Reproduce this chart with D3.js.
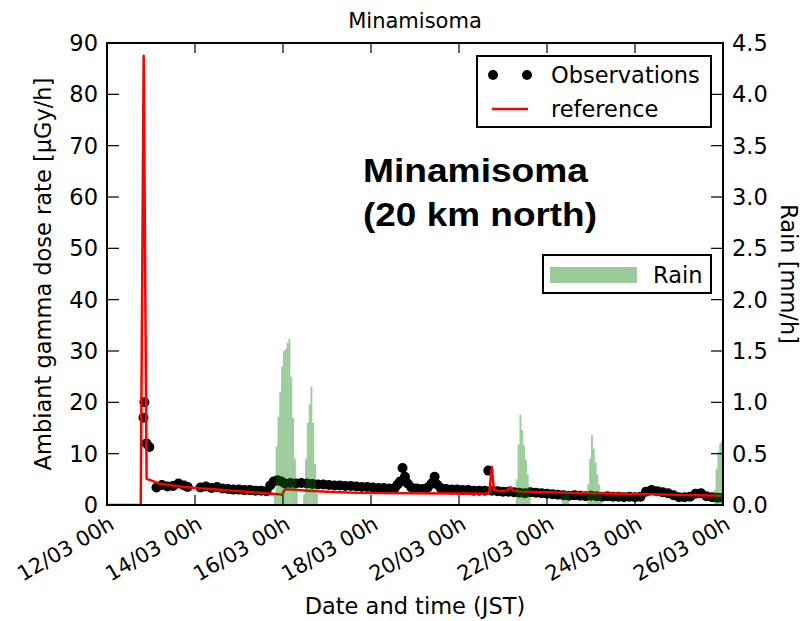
<!DOCTYPE html>
<html>
<head>
<meta charset="utf-8">
<script src="https://cdn.jsdelivr.net/npm/d3@7"></script>
<style>
  body { margin: 0; background: #fff; }
  svg { display: block; font-family: "DejaVu Sans", sans-serif; }
</style>
</head>
<body>
<svg id="chart" width="805" height="621"></svg>
<script>
// hours counted from 12/03 00h JST
const obsHours = [19.9, 20.4, 21.5, 23.1,
  27, 30, 33, 36, 39, 42, 44,
  51, 54, 57, 60, 63, 66, 69, 72, 75, 78, 81, 84, 87,
  89, 91, 93, 95, 97, 100, 103, 106, 109, 112, 115, 118, 121, 124, 127, 130, 133, 136, 139, 142, 145, 148, 151, 154, 157,
  158.5, 160, 161.2, 162.5, 164, 166, 169, 172, 175, 177, 178.7, 180, 182, 185, 188, 191, 194, 197, 200, 203, 206,
  208, 210, 213, 216, 219, 222, 225, 228, 231, 234, 237, 240, 243, 246, 249, 252, 255, 258, 261, 264, 267, 270,
  273, 276, 279, 282, 285, 288, 291, 294, 297, 300, 303, 306, 309, 312, 315, 318, 321, 324, 327, 330, 333, 336];
const obsValues = [17.0, 20.0, 12.0, 11.3,
  3.4, 3.9, 3.6, 3.7, 4.2, 3.8, 3.5,
  3.4, 3.6, 3.3, 3.5, 3.2, 3.1, 3.0, 3.0, 2.9, 2.9, 2.8, 2.8, 2.7,
  3.8, 4.6, 4.8, 4.6, 4.2, 4.3, 4.2, 4.3, 4.2, 4.1, 4.0, 4.0, 3.9, 3.8, 3.8, 3.7, 3.7, 3.6, 3.5, 3.5, 3.4, 3.3, 3.3, 3.2, 3.3,
  4.0, 4.6, 7.2, 5.5, 4.2, 3.4, 3.2, 3.1, 3.4, 4.2, 5.5, 4.0, 3.3, 3.1, 3.0, 3.0, 2.9, 2.9, 2.8, 2.8, 2.8,
  6.7, 2.8, 2.7, 2.6, 2.6, 2.5, 2.4, 2.3, 2.5, 2.4, 2.3, 2.2, 2.1, 2.0, 1.9, 1.8, 1.9, 1.8, 1.7, 1.8, 1.7, 1.6,
  1.7, 1.6, 1.6, 1.5, 1.6, 1.5, 1.6, 2.6, 2.9, 2.7, 2.5, 2.3, 1.9, 1.5, 1.5, 1.6, 2.2, 2.3, 1.7, 1.5, 1.4, 1.4];

const refHours = [0, 18.4, 20, 21.6, 24, 28, 32, 40, 50, 60, 68, 78, 86, 94, 95.5, 97, 100, 110, 120, 135, 150, 170, 190,
  206, 208.5, 209.9, 211, 214, 218, 220, 221.5, 225, 250, 280, 310, 336];
const refValues = [0, 0, 87.5, 5.1, 4.8, 4.2, 4.0, 3.6, 3.25, 3.0, 2.8, 2.55, 2.3, 2.1, 2.0, 3.05, 3.0, 2.8, 2.6, 2.4, 2.35, 2.3, 2.25,
  2.2, 2.4, 7.4, 3.0, 2.7, 2.8, 3.5, 2.8, 2.65, 2.4, 2.2, 2.0, 1.8];

const rainHours = [91, 92, 93, 94, 95, 96, 97, 98, 99, 100, 101, 102, 103,
  107, 108, 109, 110, 111, 112, 113, 114,
  223, 224, 225, 226, 227, 228, 229, 230,
  248, 249, 250, 251,
  262, 263, 264, 265, 266, 267, 268, 269,
  331, 332, 333, 334, 335];
const rainValues = [0.1, 0.57, 0.86, 1.1, 1.35, 1.5, 1.52, 1.58, 1.62, 1.25, 0.85, 0.45, 0.15,
  0.1, 0.45, 0.8, 0.98, 1.15, 0.8, 0.4, 0.12,
  0.25, 0.59, 0.88, 0.73, 0.58, 0.44, 0.3, 0.18,
  0.1, 0.13, 0.13, 0.1,
  0.2, 0.45, 0.68, 0.55, 0.42, 0.3, 0.2, 0.12,
  0.15, 0.35, 0.52, 0.6, 0.62];

const doseTicks = [0, 10, 20, 30, 40, 50, 60, 70, 80, 90];
const rainTicks = [0, 0.5, 1.0, 1.5, 2.0, 2.5, 3.0, 3.5, 4.0, 4.5];

const t0 = Date.UTC(2011, 2, 12);
const hourToDate = h => new Date(t0 + h * 3600e3);

const margin = {left: 107, right: 82, top: 43, bottom: 116};
const W = 805, H = 621;
const x0 = margin.left, x1 = W - margin.right, y0 = H - margin.bottom, y1 = margin.top;
const fs = 22.5;

const x = d3.scaleUtc().domain([new Date(t0), hourToDate(336)]).range([x0, x1]);
const y = d3.scaleLinear().domain([0, 90]).range([y0, y1]);
const yRain = d3.scaleLinear().domain([0, 4.5]).range([y0, y1]);

const svg = d3.select("#chart");

svg.append("defs").append("clipPath").attr("id", "clip")
  .append("rect").attr("x", x0).attr("y", y1).attr("width", x1 - x0).attr("height", y0 - y1);

const plot = svg.append("g").attr("clip-path", "url(#clip)");

// observations
plot.append("g").selectAll("circle")
  .data(obsHours.map((h, i) => [h, obsValues[i]]))
  .join("circle")
  .attr("cx", d => x(hourToDate(d[0])))
  .attr("cy", d => y(d[1]))
  .attr("r", 5)
  .attr("fill", "#000");

// reference
const line = d3.line().x(d => x(hourToDate(d[0]))).y(d => y(d[1]));
plot.append("path")
  .datum(refHours.map((h, i) => [h, refValues[i]]))
  .attr("d", line)
  .attr("fill", "none")
  .attr("stroke", "#ff0000")
  .attr("stroke-width", 2.5)
  .attr("stroke-linejoin", "round");

// rain (twin axis, on top)
plot.append("g").selectAll("rect")
  .data(rainHours.map((h, i) => [h, rainValues[i]]))
  .join("rect")
  .attr("x", d => x(hourToDate(d[0])))
  .attr("width", d => x(hourToDate(d[0] + 1)) - x(hourToDate(d[0])))
  .attr("y", d => yRain(d[1]))
  .attr("height", d => y0 - yRain(d[1]))
  .attr("fill", "rgb(0,128,0)")
  .attr("fill-opacity", 0.4);

// frame
svg.append("rect").attr("x", x0).attr("y", y1).attr("width", x1 - x0).attr("height", y0 - y1)
  .attr("fill", "none").attr("stroke", "#000").attr("stroke-width", 2);

// axes with inward ticks
const xTickVals = d3.range(0, 337, 48).map(hourToDate);
const fmt = d3.utcFormat("%d/%m %Hh");
const tickG = svg.append("g").attr("stroke", "#000").attr("stroke-width", 1.2);
xTickVals.forEach(t => {
  const xx = x(t);
  tickG.append("line").attr("x1", xx).attr("x2", xx).attr("y1", y0).attr("y2", y0 - 10);
  tickG.append("line").attr("x1", xx).attr("x2", xx).attr("y1", y1).attr("y2", y1 + 10);
});
doseTicks.forEach(v => {
  tickG.append("line").attr("x1", x0).attr("x2", x0 + 12).attr("y1", y(v)).attr("y2", y(v));
});
rainTicks.forEach(v => {
  tickG.append("line").attr("x1", x1).attr("x2", x1 - 12).attr("y1", yRain(v)).attr("y2", yRain(v));
});

svg.append("g").selectAll("text")
  .data(xTickVals)
  .join("text")
  .attr("transform", d => `translate(${x(d) + 1},${y0 + 10}) rotate(-30)`)
  .attr("text-anchor", "end")
  .attr("dy", "0.72em")
  .attr("font-size", 21)
  .text(d => fmt(d));

svg.append("g").selectAll("text")
  .data(doseTicks)
  .join("text")
  .attr("x", x0 - 9)
  .attr("y", d => y(d))
  .attr("dy", "0.36em")
  .attr("text-anchor", "end")
  .attr("font-size", fs)
  .text(d => d);

svg.append("g").selectAll("text")
  .data(rainTicks)
  .join("text")
  .attr("x", x1 + 9)
  .attr("y", d => yRain(d))
  .attr("dy", "0.36em")
  .attr("font-size", fs)
  .text(d => d.toFixed(1));

// labels
svg.append("text").attr("x", (x0 + x1) / 2).attr("y", 28).attr("text-anchor", "middle")
  .attr("font-size", 21).text("Minamisoma");
svg.append("text").attr("x", (x0 + x1) / 2).attr("y", 614).attr("text-anchor", "middle")
  .attr("font-size", fs).text("Date and time (JST)");
svg.append("text").attr("transform", `translate(51,${(y0 + y1) / 2}) rotate(-90)`)
  .attr("text-anchor", "middle").attr("font-size", fs).text("Ambiant gamma dose rate [µGy/h]");
svg.append("text").attr("transform", `translate(781,${(y0 + y1) / 2}) rotate(90)`)
  .attr("text-anchor", "middle").attr("font-size", fs).text("Rain [mm/h]");

const note = svg.append("text").attr("font-family", "'Liberation Sans', Arial, sans-serif")
  .attr("font-weight", "bold").attr("font-size", 33);
note.append("tspan").attr("x", 363).attr("y", 182)
  .attr("textLength", 225).attr("lengthAdjust", "spacingAndGlyphs").text("Minamisoma");
note.append("tspan").attr("x", 363).attr("y", 226)
  .attr("textLength", 234).attr("lengthAdjust", "spacingAndGlyphs").text("(20 km north)");

// legend: observations / reference
const lg = svg.append("g");
lg.append("rect").attr("x", 477).attr("y", 56).attr("width", 234).attr("height", 71)
  .attr("fill", "#fff").attr("stroke", "#000").attr("stroke-width", 2);
[493, 527].forEach(cx => lg.append("circle").attr("cx", cx).attr("cy", 75).attr("r", 5).attr("fill", "#000"));
lg.append("text").attr("x", 551).attr("y", 75).attr("dy", "0.36em").attr("font-size", fs).text("Observations");
lg.append("line").attr("x1", 492).attr("x2", 528).attr("y1", 109).attr("y2", 109)
  .attr("stroke", "#ff0000").attr("stroke-width", 2.5);
lg.append("text").attr("x", 551).attr("y", 109).attr("dy", "0.36em").attr("font-size", fs).text("reference");

// legend: rain
const lr = svg.append("g");
lr.append("rect").attr("x", 543).attr("y", 255).attr("width", 168).attr("height", 38)
  .attr("fill", "#fff").attr("stroke", "#000").attr("stroke-width", 2);
lr.append("rect").attr("x", 550).attr("y", 267).attr("width", 87).attr("height", 16)
  .attr("fill", "rgb(0,128,0)").attr("fill-opacity", 0.4);
lr.append("text").attr("x", 653).attr("y", 275).attr("dy", "0.36em").attr("font-size", fs).text("Rain");
</script>
</body>
</html>
